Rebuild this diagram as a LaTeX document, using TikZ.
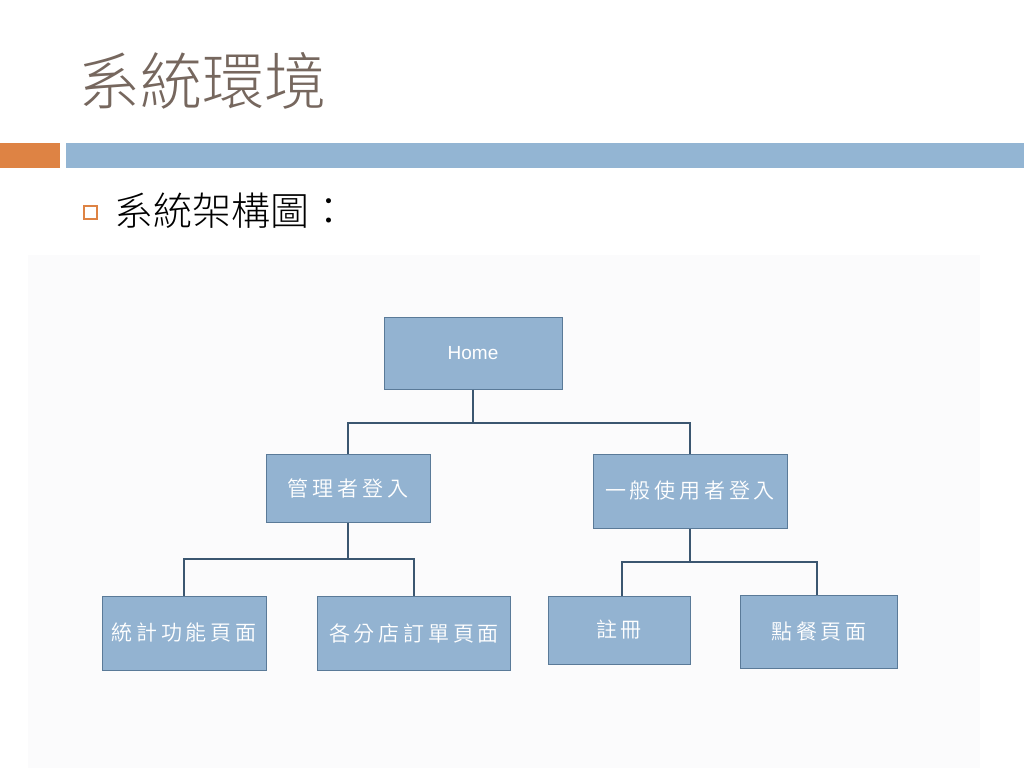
\documentclass[tikz,border=0pt]{standalone}
\usepackage{fontspec}
\newfontfamily\cjk{Noto Sans CJK TC}[UprightFont=* Light]
\newfontfamily\cjkbox{Noto Sans CJK TC}[UprightFont=* DemiLight, LetterSpace=18]
\newfontfamily\latin{Liberation Sans}
\definecolor{titlecol}{HTML}{76675E}
\definecolor{orangebar}{HTML}{DE8344}
\definecolor{bluebar}{HTML}{93B5D3}
\definecolor{boxfill}{HTML}{93B3D1}
\definecolor{boxline}{HTML}{5A7A98}
\definecolor{linkcol}{HTML}{3B5670}
\definecolor{panel}{HTML}{FBFBFC}
\tikzset{
  box/.style={draw=boxline, line width=1pt, fill=boxfill, text=white, font=\cjkbox\fontsize{21}{24}\selectfont, inner sep=0pt},
  link/.style={draw=linkcol, line width=2.2pt}
}
\begin{document}
\begin{tikzpicture}[x=1pt,y=-1pt]
\useasboundingbox (0,0) rectangle (1024,768);
\fill[white] (0,0) rectangle (1024,768);
% panel
\fill[panel] (28,255) rectangle (980,768);
% title
\node[anchor=base west, text=titlecol, font=\cjk\fontsize{62}{66}\selectfont, inner sep=0pt] (title) at (78,104) {系統環境};
% bars
\fill[orangebar] (0,143) rectangle (60,168);
\fill[bluebar] (66,143) rectangle (1024,168);
% bullet
\draw[orangebar, line width=1.2pt] (84,206) rectangle (97,219);
\node[anchor=west, font=\cjk\fontsize{39}{42}\selectfont, inner sep=0pt] (sub) at (114,211) {系統架構圖：};
% boxes
\node[box, minimum width=178pt, minimum height=72pt, font=\latin\fontsize{19}{22}\selectfont] (home) at (473,353) {Home};
\node[box, minimum width=164pt, minimum height=68pt] (admin) at (348,488) {管理者登入};
\node[box, minimum width=194pt, minimum height=74pt] (user) at (690,491) {一般使用者登入};
\node[box, minimum width=164pt, minimum height=74pt] (stat) at (184,633) {統計功能頁面};
\node[box, minimum width=193pt, minimum height=74pt] (order) at (414,633) {各分店訂單頁面};
\node[box, minimum width=142pt, minimum height=68pt] (reg) at (619,630) {註冊};
\node[box, minimum width=157pt, minimum height=73pt] (meal) at (819,632) {點餐頁面};
% connectors
\coordinate (j1) at (473,423);
\coordinate (j2) at (348,559);
\coordinate (j3) at (690,562);
\draw[link] (home.south) -- (j1);
\draw[link] (admin.north) |- (j1) -| (user.north);
\draw[link] (admin.south) -- (j2);
\draw[link] (stat.north) |- (j2) -| (order.north);
\draw[link] (user.south) -- (j3);
\draw[link] ([xshift=3pt]reg.north) |- (j3) -| ([xshift=-2pt]meal.north);
\end{tikzpicture}
\end{document}
